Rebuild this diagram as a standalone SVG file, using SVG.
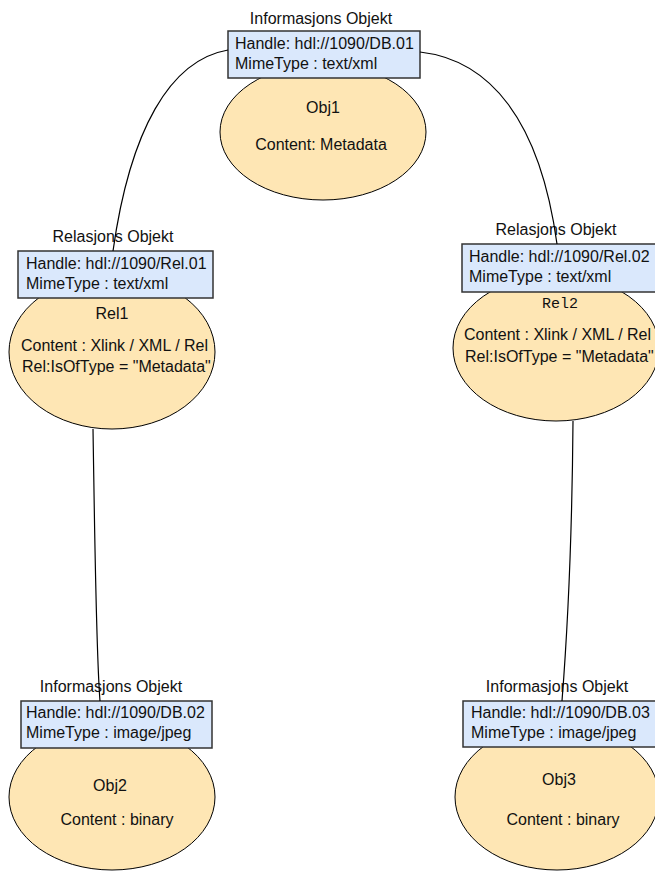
<svg xmlns="http://www.w3.org/2000/svg" width="655" height="875" viewBox="0 0 655 875">
  <style>
    .body { fill: #fee6b4; stroke: #000; stroke-width: 1; }
    .hdr { fill: #dae8fc; stroke: #333; stroke-width: 1.5; }
    text { font-family: "Liberation Sans", Arial, sans-serif; font-size: 16px; fill: #111; }
    .c { text-anchor: middle; }
    .mono { font-family: "Liberation Mono", "Courier New", monospace; font-size: 15px; }
    .link { fill: none; stroke: #000; stroke-width: 1.2; }
  </style>
  <rect width="655" height="875" fill="#fff"/>

  <g id="obj1">
    <ellipse class="body" cx="323" cy="132" rx="103" ry="68"/>
    <rect class="hdr" x="228" y="31" width="192" height="47"/>
    <text class="c" x="321" y="24">Informasjons Objekt</text>
    <text x="235" y="49">Handle: hdl://1090/DB.01</text>
    <text x="235" y="69">MimeType : text/xml</text>
    <text class="c" x="323" y="113">Obj1</text>
    <text class="c" x="321" y="150">Content: Metadata</text>
  </g>

  <g id="rel1">
    <ellipse class="body" cx="112" cy="352" rx="103" ry="77"/>
    <rect class="hdr" x="18" y="251" width="195" height="47"/>
    <text class="c" x="113" y="242">Relasjons Objekt</text>
    <text x="26" y="269">Handle: hdl://1090/Rel.01</text>
    <text x="26" y="289">MimeType : text/xml</text>
    <text class="c" x="112" y="319">Rel1</text>
    <text x="21" y="351">Content : Xlink / XML / Rel</text>
    <text x="22" y="372">Rel:IsOfType = "Metadata"</text>
  </g>

  <g id="rel2">
    <ellipse class="body" cx="556" cy="348" rx="103" ry="73"/>
    <rect class="hdr" x="462" y="244" width="195" height="48"/>
    <text class="c" x="556" y="235">Relasjons Objekt</text>
    <text x="469" y="262">Handle: hdl://1090/Rel.02</text>
    <text x="469" y="282">MimeType : text/xml</text>
    <text class="c mono" x="560" y="308">Rel2</text>
    <text x="464" y="340">Content : Xlink / XML / Rel</text>
    <text x="465" y="362">Rel:IsOfType = "Metadata"</text>
  </g>

  <g id="obj2">
    <ellipse class="body" cx="112" cy="797" rx="103" ry="73"/>
    <rect class="hdr" x="21" y="701" width="191" height="47"/>
    <text class="c" x="111" y="692">Informasjons Objekt</text>
    <text x="26" y="718">Handle: hdl://1090/DB.02</text>
    <text x="26" y="738">MimeType : image/jpeg</text>
    <text class="c" x="110" y="791">Obj2</text>
    <text class="c" x="117" y="825">Content : binary</text>
  </g>

  <g id="obj3">
    <ellipse class="body" cx="557" cy="797" rx="102" ry="73"/>
    <rect class="hdr" x="463" y="701" width="193" height="46"/>
    <text class="c" x="557" y="692">Informasjons Objekt</text>
    <text x="471" y="718">Handle: hdl://1090/DB.03</text>
    <text x="471" y="738">MimeType : image/jpeg</text>
    <text class="c" x="559" y="785">Obj3</text>
    <text class="c" x="563" y="825">Content : binary</text>
  </g>

  <g id="connectors">
    <path class="link" d="M228,50 C170,60 130,130 113,251"/>
    <path class="link" d="M420,52 C490,60 540,120 557,244"/>
    <path class="link" d="M93,429 C95,550 96,650 100,701"/>
    <path class="link" d="M573,421 C572,550 566,650 562,701"/>
  </g>
</svg>
